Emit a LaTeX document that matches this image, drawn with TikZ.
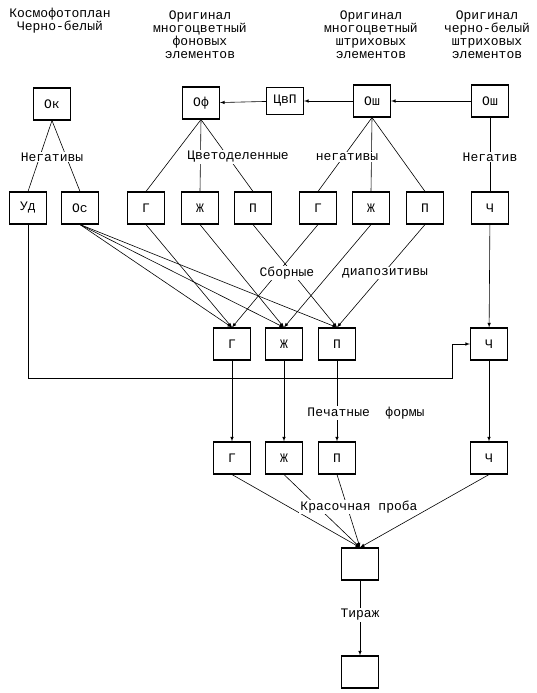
\documentclass[tikz,border=0pt]{standalone}
\usepackage{fontspec}
\setmainfont{Liberation Mono}
\usepackage{tikz}
\usetikzlibrary{positioning}
\tikzset{block/.style={draw,line width=1.1pt,minimum width=37pt,minimum height=32pt,inner sep=0pt,align=center},
         line/.style={-latex,line width=0.6pt},
         link/.style={line width=0.6pt},
         lbl/.style={fill=white,inner sep=1pt,align=center}
}

\begin{document}
\begin{tikzpicture}[x=1pt,y=1pt,yscale=-1,xscale=1,font=\fontsize{13}{13}\selectfont]
\useasboundingbox (0,0) rectangle (537,693); %keep the page as large as the scan

% Headers
\node (hk) at (60,21) [align=center] {Космофотоплан\\Черно-белый};
\node (hf) at (200,35) [align=center] {Оригинал\\многоцветный\\фоновых\\элементов};
\node (hs) at (371,35) [align=center] {Оригинал\\многоцветный\\штриховых\\элементов};
\node (hc) at (487,35) [align=center] {Оригинал\\черно-белый\\штриховых\\элементов};

%Originals
\node (ok) at (52,104) [block] {Ок};
\node (of) at (201,103) [block] {Оф};
\node (cvp) at (285,101) [block,minimum height=27pt] {ЦвП};
\node (osh) at (372,101) [block] {Ош};
\node (oshc) at (490,101) [block] {Ош};

%Negatives
\node (ud) at (28,208) [block] {Уд};
\node (os) at (80,208) [block] {Ос};
\node (gf) at (146,208) [block] {Г};
\node (zf) at (200,208) [block] {Ж};
\node (pf) at (253,208) [block] {П};
\node (gs) at (318,208) [block] {Г};
\node (zs) at (371,208) [block] {Ж};
\node (ps) at (425,208) [block] {П};
\node (cn) at (490,208) [block] {Ч};

%Diapositives
\node (gd) at (232,344) [block] {Г};
\node (zd) at (284,344) [block] {Ж};
\node (pd) at (337,344) [block] {П};
\node (cd) at (489,344) [block] {Ч};

%Printing forms
\node (gp) at (232,458) [block] {Г};
\node (zp) at (284,458) [block] {Ж};
\node (pp) at (337,458) [block] {П};
\node (cp) at (489,458) [block] {Ч};

%Proof and run
\node (proba) at (360,564) [block] {};
\node (tiraz) at (360,672) [block] {};

%Straight Lines: top row
\draw [line] (oshc) -- (osh);
\draw [line] (osh) -- (cvp);
\draw [line] (cvp) -- (of);

%Straight Lines: negatives
\draw [link] (ok.south) -- (ud.north);
\draw [link] (ok.south) -- (os.north);
\draw [link] (of.south) -- (gf.north);
\draw [link] (of.south) -- (zf.north);
\draw [link] (of.south) -- (pf.north);
\draw [link] (osh.south) -- (gs.north);
\draw [link] (osh.south) -- (zs.north);
\draw [link] (osh.south) -- (ps.north);
\draw [link] (oshc) -- (cn);

%Straight Lines: diapositives
\draw [line] (os.south) -- (gd.north);
\draw [line] (os.south) -- (zd.north);
\draw [line] (os.south) -- (pd.north);
\draw [line] (gf.south) -- (gd.north);
\draw [line] (zf.south) -- (zd.north);
\draw [line] (pf.south) -- (pd.north);
\draw [line] (gs.south) -- (gd.north);
\draw [line] (zs.south) -- (zd.north);
\draw [line] (ps.south) -- (pd.north);
\draw [line] (cn) -- (cd);

\coordinate (turn) at (452,378);
\draw [line] (ud.south) |- (turn) |- (cd.west);

%Straight Lines: forms
\draw [line] (gd) -- (gp);
\draw [line] (zd) -- (zp);
\draw [line] (pd) -- (pp);
\draw [line] (cd) -- (cp);

%Straight Lines: proof
\draw [line] (gp.south) -- (proba.north);
\draw [line] (zp.south) -- (proba.north);
\draw [line] (pp.south) -- (proba.north);
\draw [line] (cp.south) -- (proba.north);
\draw [line] (proba) -- (tiraz);

% Text Node
\node at (52,157) [lbl] {Негативы};
\node at (238,157) [lbl] {Цветоделенные};
\node at (347,157) [lbl] {негативы};
\node at (490,157) [lbl] {Негатив};
\node at (287,273) [lbl] {Сборные};
\node at (385,273) [lbl] {диапозитивы};
\node at (366,413) [lbl] {Печатные~~формы};
\node at (359,507) [lbl] {Красочная проба};
\node at (360,615) [lbl] {Тираж};

\end{tikzpicture}
\end{document}
